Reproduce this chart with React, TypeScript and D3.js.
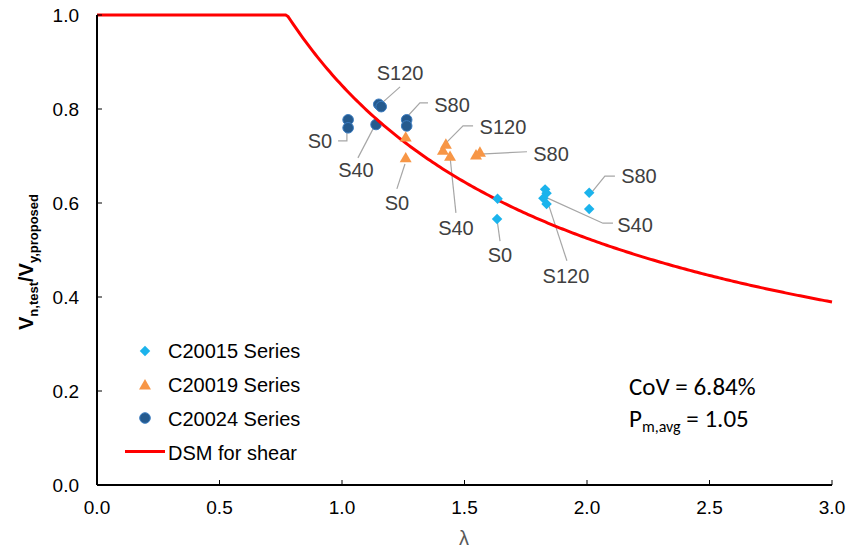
import React from "react";
import * as d3 from "d3";

// ---------- data ----------
const c20015Lambda = [1.635, 1.633, 1.829, 1.835, 1.822, 1.835, 2.009, 2.009];
const c20015Ratio = [0.609, 0.566, 0.629, 0.621, 0.61, 0.598, 0.622, 0.587];

const c20019Lambda = [1.26, 1.26, 1.424, 1.412, 1.441, 1.547, 1.563];
const c20019Ratio = [0.738, 0.694, 0.723, 0.71, 0.697, 0.7, 0.706];

const c20024Lambda = [1.025, 1.025, 1.139, 1.15, 1.16, 1.264, 1.264];
const c20024Ratio = [0.777, 0.76, 0.767, 0.81, 0.805, 0.777, 0.764];

const xTicks = [0, 0.5, 1.0, 1.5, 2.0, 2.5, 3.0];
const yTicks = [0, 0.2, 0.4, 0.6, 0.8, 1.0];

const legendLabels = ["C20015 Series", "C20019 Series", "C20024 Series", "DSM for shear"];

// DSM shear (with tension field action) curve, lambda sample points
const dsmLambda = d3.range(0, 3.0001, 0.01);
const dsmShear = (l: number) => {
  if (l <= 0.776) return 1;
  const r = Math.pow(l, -0.8);
  return (1 - 0.15 * r) * r;
};

// annotations: label, label position, leader polyline (data units)
const annotations = [
  { t: "S0", at: [0.91, 0.717], path: [[0.984, 0.732], [1.02, 0.732], [1.02, 0.753]] },
  { t: "S40", at: [1.057, 0.655], path: [[1.065, 0.696], [1.131, 0.762]] },
  { t: "S120", at: [1.237, 0.862], path: [[1.159, 0.811], [1.237, 0.847]] },
  { t: "S80", at: [1.449, 0.794], path: [[1.265, 0.783], [1.318, 0.813], [1.351, 0.813]] },
  { t: "S120", at: [1.657, 0.747], path: [[1.429, 0.73], [1.494, 0.764], [1.535, 0.764]] },
  { t: "S80", at: [1.853, 0.689], path: [[1.563, 0.704], [1.755, 0.709]] },
  { t: "S0", at: [1.224, 0.585], path: [[1.224, 0.63], [1.257, 0.683]] },
  { t: "S40", at: [1.465, 0.532], path: [[1.441, 0.698], [1.465, 0.579]] },
  { t: "S0", at: [1.645, 0.474], path: [[1.645, 0.519], [1.633, 0.564]] },
  { t: "S120", at: [1.914, 0.43], path: [[1.918, 0.477], [1.837, 0.606]] },
  { t: "S40", at: [2.196, 0.538], path: [[1.837, 0.611], [2.065, 0.557], [2.106, 0.557]] },
  { t: "S80", at: [2.212, 0.643], path: [[2.02, 0.623], [2.073, 0.657], [2.114, 0.657]] },
];

const W = 848;
const H = 548;
const M = { left: 97, right: 16, top: 15, bottom: 63 };

const LB = "#1BB3EC";
const OR = "#F79646";
const DB = "#255A8E";
const DBS = "#3B7CC0";
const FONT = "'Liberation Sans', Arial, sans-serif";
const STAT_FONT = "Carlito, Calibri, Lato, sans-serif";

export default function App() {
  const x = d3.scaleLinear().domain([0, 3]).range([M.left, W - M.right]);
  const y = d3.scaleLinear().domain([0, 1]).range([H - M.bottom, M.top]);

  const line = d3
    .line<number>()
    .x((l) => x(l))
    .y((l) => y(dsmShear(l)));

  const poly = d3
    .line<number[]>()
    .x((p) => x(p[0]))
    .y((p) => y(p[1]));

  const diamond = d3.symbol().type(d3.symbolDiamond2).size(70)() as string;
  const triangle = d3.symbol().type(d3.symbolTriangle).size(62)() as string;

  const x0 = x(0);
  const y0 = y(0);

  return (
    <svg
      width={W}
      height={H}
      style={{ position: "absolute", left: 0, top: 0, background: "#fff" }}
      fontFamily={FONT}
    >
      <rect width={W} height={H} fill="#fff" />

      {/* leader lines */}
      {annotations.map((a, i) => (
        <path key={"l" + i} d={poly(a.path as number[][]) as string} fill="none" stroke="#A6A6A6" strokeWidth={1.2} />
      ))}

      {/* C20024 circles */}
      {c20024Lambda.map((l, i) => (
        <circle key={"c" + i} cx={x(l)} cy={y(c20024Ratio[i])} r={5.3} fill={DB} stroke={DBS} strokeWidth={1} />
      ))}

      {/* DSM curve */}
      <path d={line(dsmLambda) as string} fill="none" stroke="#FF0000" strokeWidth={3} />

      {/* C20019 triangles */}
      {c20019Lambda.map((l, i) => (
        <path key={"t" + i} d={triangle} transform={`translate(${x(l)},${y(c20019Ratio[i])})`} fill={OR} />
      ))}
      {/* C20015 diamonds */}
      {c20015Lambda.map((l, i) => (
        <path key={"d" + i} d={diamond} transform={`translate(${x(l)},${y(c20015Ratio[i])})`} fill={LB} />
      ))}

      {/* annotation labels */}
      {annotations.map((a, i) => (
        <text key={"a" + i} x={x(a.at[0])} y={y(a.at[1])} textAnchor="middle" fontSize={20} fill="#404040">
          {a.t}
        </text>
      ))}

      {/* axes */}
      <line x1={x0} x2={x(3)} y1={y0} y2={y0} stroke="#000" strokeWidth={2} />
      <line x1={x0} x2={x0} y1={y0} y2={y(1)} stroke="#000" strokeWidth={2} />
      {xTicks.map((t) => (
        <g key={"xt" + t}>
          <line x1={x(t)} x2={x(t)} y1={y0} y2={y0 - 5} stroke="#000" strokeWidth={1} />
          <text x={x(t)} y={514} textAnchor="middle" fontSize={19} fill="#000">
            {d3.format(".1f")(t)}
          </text>
        </g>
      ))}
      {yTicks.map((t) => (
        <g key={"yt" + t}>
          <line x1={x0} x2={x0 + 5} y1={y(t)} y2={y(t)} stroke="#000" strokeWidth={1} />
          <text x={79} y={y(t)} dy="0.36em" textAnchor="end" fontSize={19} fill="#000">
            {d3.format(".1f")(t)}
          </text>
        </g>
      ))}

      {/* axis titles */}
      <text x={464} y={545} textAnchor="middle" fontSize={20} fill="#595959">
        λ
      </text>
      <text transform="translate(33,262) rotate(-90)" textAnchor="middle" fontSize={20} fontWeight="bold" fill="#000">
        V
        <tspan fontSize={13} dy={5}>n,test</tspan>
        <tspan fontSize={20} dy={-5}>/V</tspan>
        <tspan fontSize={13} dy={5}>y,proposed</tspan>
      </text>

      {/* legend */}
      <path d={diamond} transform="translate(145,351)" fill={LB} />
      <path d={triangle} transform="translate(145,386)" fill={OR} />
      <circle cx={145} cy={418} r={5.3} fill={DB} stroke={DBS} strokeWidth={1} />
      <line x1={125} x2={165} y1={451.5} y2={451.5} stroke="#FF0000" strokeWidth={3} />
      {legendLabels.map((s, i) => (
        <text key={s} x={168} y={358 + i * 34} fontSize={20} fill="#000">
          {s}
        </text>
      ))}

      {/* stats */}
      <text x={629} y={395} fontSize={25} fill="#000" fontFamily={STAT_FONT}>
        CoV = 6.84%
      </text>
      <text x={629} y={427} fontSize={25} fill="#000" fontFamily={STAT_FONT}>
        P<tspan fontSize={16} dy={5}>m,avg</tspan>
        <tspan dy={-5}> = 1.05</tspan>
      </text>
    </svg>
  );
}
